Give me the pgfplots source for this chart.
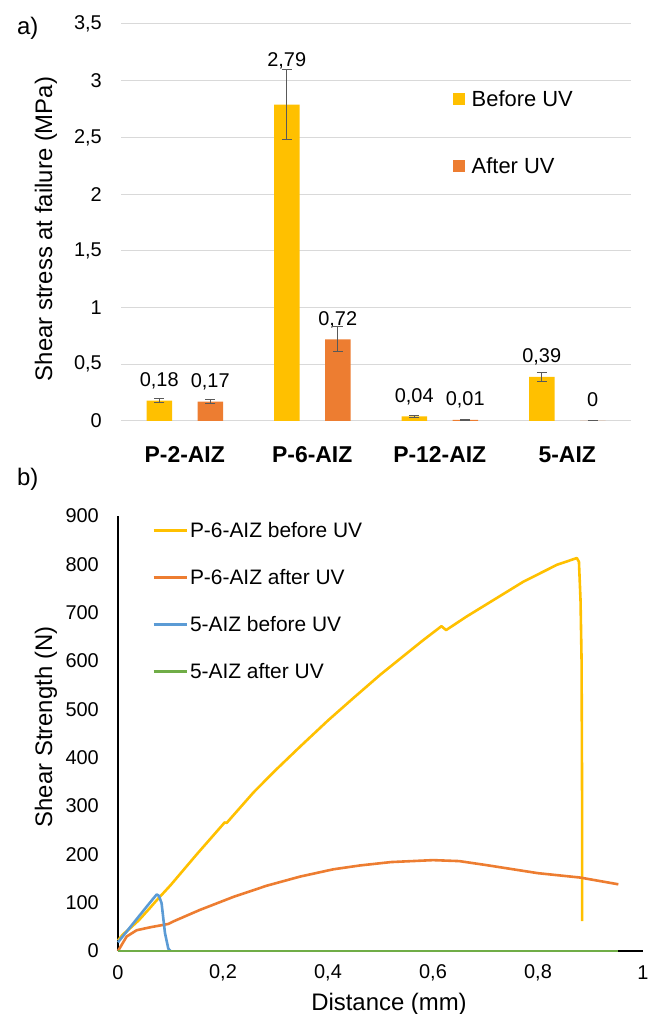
\documentclass[border=0pt]{standalone}
\usepackage{fontspec}
\setmainfont{Liberation Sans}
\usepackage{pgfplots}
\usepackage{pgfplotstable}
\pgfplotsset{compat=1.18}

\definecolor{cyel}{RGB}{255,192,0}
\definecolor{cora}{RGB}{237,125,49}
\definecolor{cblu}{RGB}{91,155,213}
\definecolor{cgrn}{RGB}{112,173,71}
\definecolor{cgrid}{RGB}{217,217,217}
\definecolor{cerr}{RGB}{89,89,89}

% bars: x = category index -0.2 (before) / +0.2 (after)
\pgfplotstableread{
x y err lab
-0.2 0.18 0.02 14
0.8 2.79 0.31 38
1.8 0.04 0.005 14
2.8 0.39 0.04 14
}\before
\pgfplotstableread{
x y err lab
0.2 0.17 0.02 14
1.2 0.72 0.11 14
2.2 0.01 0.004 14
3.2 0 0 14
}\after

\pgfplotstableread{
x y
0 22
0.01 35
0.02 44
0.04 64
0.06 88
0.0737 105
0.1 136
0.15 200
0.2 262
0.203 266
0.207 265
0.258 328
0.3 374
0.347 423
0.4 477
0.448 523
0.5 572
0.54 607
0.58 642
0.616 672
0.625 664
0.664 692
0.7 716
0.772 764
0.836 799
0.874 813
0.878 805
0.881 726
0.883 600
0.884 300
0.884 62
}\pbefore

\pgfplotstableread{
x y
0 0
0.0165 30
0.0356 43
0.061 49
0.096 56
0.105 61
0.156 85
0.22 112
0.283 135
0.347 154
0.41 169
0.461 177
0.52 184
0.6 188
0.65 186
0.7 178
0.8 161
0.88 152
0.953 138
}\pafter

\pgfplotstableread{
x y
0 18
0.02 45
0.04 72
0.06 99
0.0737 117
0.078 114
0.083 99
0.0895 37
0.0958 5
0.1 0
}\fbefore

\pgfplotstableread{
x y
0 0
0.953 0
}\fafter

\pgfplotsset{/pgf/number format/assume math mode=true}

\begin{document}
\begin{tikzpicture}
\path[use as bounding box] (0,0) rectangle (649bp,1014bp);

% ---------- a) ----------
\begin{axis}[
  at={(121bp,593bp)}, anchor=south west,
  scale only axis, width=510bp, height=397bp,
  xmin=-0.5, xmax=3.5, ymin=0, ymax=3.5,
  ytick={0,0.5,1,1.5,2,2.5,3,3.5},
  xtick={0,1,2,3},
  xticklabels={P-2-AIZ,P-6-AIZ,P-12-AIZ,5-AIZ},
  xticklabel style={font=\fontsize{23}{27}\selectfont\bfseries, anchor=center, yshift=-34bp},
  yticklabel style={font=\fontsize{20}{24}\selectfont, anchor=east, inner sep=0pt, xshift=-19bp},
  /pgf/number format/use comma,
  axis line style={draw=none},
  major tick length=0pt,
  tick style={draw=none},
  ymajorgrids, grid style={cgrid, line width=1bp},
  legend style={draw=none, fill=none, at={(0.65,0.8333)}, anchor=north west,
    inner sep=0pt, row sep=50bp, font=\fontsize{22}{26}\selectfont,
    nodes={inner sep=0pt},
    /tikz/every odd column/.append style={column sep=7bp}},
  legend cell align=left,
  legend image code/.code={\fill[#1, draw=none] (0bp,-6bp) rectangle (12bp,6bp);},
  nodes near coords={\pgfmathprintnumber[fixed,precision=2,use comma]{\pgfplotspointmeta}},
  every node near coord/.append style={font=\fontsize{20}{24}\selectfont, anchor=base, inner sep=0pt, text=black},
]
\addplot[ybar, bar width=0.2, bar shift=0, fill=cyel, draw=none,
  visualization depends on={\thisrow{lab} \as \labshift},
  every node near coord/.append style={yshift=\labshift bp},
  error bars/.cd, y dir=both, y explicit,
  error bar style={cerr, line width=1bp},
  error mark options={cerr, rotate=90, mark size=5bp, line width=1bp}]
  table[x=x, y=y, y error=err] {\before};
\addlegendentry{Before UV}
\addplot[ybar, bar width=0.2, bar shift=0, fill=cora, draw=none,
  visualization depends on={\thisrow{lab} \as \labshift},
  every node near coord/.append style={yshift=\labshift bp},
  error bars/.cd, y dir=both, y explicit,
  error bar style={cerr, line width=1bp},
  error mark options={cerr, rotate=90, mark size=5bp, line width=1bp}]
  table[x=x, y=y, y error=err] {\after};
\addlegendentry{After UV}
\end{axis}

% ---------- b) ----------
\begin{axis}[
  at={(118bp,63bp)}, anchor=south west,
  scale only axis, width=525bp, height=435bp,
  xmin=0, xmax=1, ymin=0, ymax=900,
  xtick={0,0.2,0.4,0.6,0.8,1},
  ytick={0,100,200,300,400,500,600,700,800,900},
  /pgf/number format/use comma,
  axis x line=bottom, axis y line=left,
  axis line style={-, black, line width=1.3bp},
  major tick length=0pt, tick style={draw=none},
  xticklabel style={font=\fontsize{20}{24}\selectfont, anchor=center, yshift=-22bp},
  yticklabel style={font=\fontsize{20}{24}\selectfont, anchor=east, inner sep=0pt, xshift=-19bp},
  clip=false,
  legend style={draw=none, fill=none, at={(0.0648,0.9857)}, anchor=north west,
    inner sep=0pt, row sep=30.4bp, font=\fontsize{21}{25}\selectfont,
    nodes={inner sep=0pt},
    /tikz/every odd column/.append style={column sep=2bp}},
  legend cell align=left,
  legend image code/.code={\draw[#1, line width=2.8bp] (0bp,0bp) -- (33bp,0bp);},
]
\addplot[cyel, line width=2.6bp, line join=round] table[x=x,y=y] {\pbefore};
\addlegendentry{P-6-AIZ before UV}
\addplot[cora, line width=2.6bp, line join=round] table[x=x,y=y] {\pafter};
\addlegendentry{P-6-AIZ after UV}
\addplot[cblu, line width=2.6bp, line join=round] table[x=x,y=y] {\fbefore};
\addlegendentry{5-AIZ before UV}
\addplot[cgrn, line width=2.6bp, line join=round] table[x=x,y=y] {\fafter};
\addlegendentry{5-AIZ after UV}
\end{axis}

% labels
\node[anchor=base west, inner sep=0pt, font=\fontsize{24}{28}\selectfont] at (17bp,979.5bp) {a)};
\node[anchor=base west, inner sep=0pt, font=\fontsize{24}{28}\selectfont] at (17bp,528.5bp) {b)};
\node[rotate=90, inner sep=0pt, font=\fontsize{24}{28}\selectfont] at (46bp,785bp) {Shear stress at failure (MPa)};
\node[rotate=90, inner sep=0pt, font=\fontsize{24}{28}\selectfont] at (46bp,287bp) {Shear Strength (N)};
\node[anchor=base, inner sep=0pt, font=\fontsize{24}{28}\selectfont] at (389bp,4bp) {Distance (mm)};
\end{tikzpicture}
\end{document}
